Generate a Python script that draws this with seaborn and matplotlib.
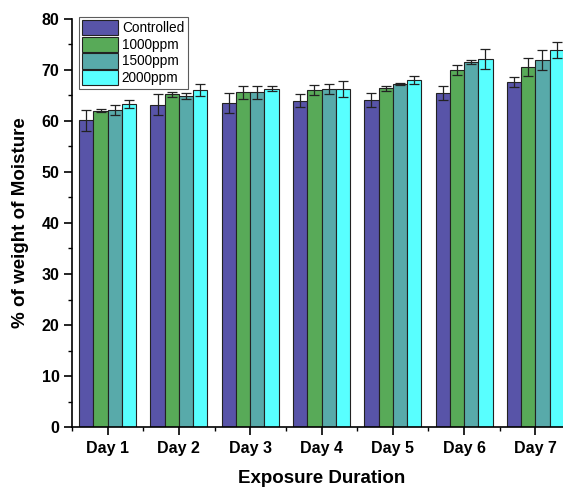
import numpy as np
import pandas as pd
import matplotlib
matplotlib.use("Agg")
import matplotlib.pyplot as plt
import seaborn as sns
from matplotlib.ticker import MultipleLocator

# data
days = ["Day 1", "Day 2", "Day 3", "Day 4", "Day 5", "Day 6", "Day 7"]
treatments = ["Controlled", "1000ppm", "1500ppm", "2000ppm"]

controlled = [60.1, 63.2, 63.5, 64.0, 64.1, 65.5, 67.6]
ppm1000 = [62.0, 65.2, 65.6, 66.0, 66.4, 70.0, 70.6]
ppm1500 = [62.1, 64.9, 65.6, 66.2, 67.2, 71.5, 72.0]
ppm2000 = [63.3, 66.1, 66.3, 66.3, 68.0, 72.1, 73.9]

controlled_err = [2.0, 2.0, 2.0, 1.3, 1.3, 1.3, 1.0]
ppm1000_err = [0.3, 0.4, 1.2, 1.0, 0.5, 1.0, 1.8]
ppm1500_err = [1.0, 0.6, 1.2, 1.0, 0.2, 0.4, 2.0]
ppm2000_err = [0.8, 1.2, 0.5, 1.5, 0.8, 2.0, 1.5]

colors = ["#5854A8", "#58AA58", "#58AAAA", "#58FFFF"]

# long-form table for seaborn
values = [controlled, ppm1000, ppm1500, ppm2000]
errors = [controlled_err, ppm1000_err, ppm1500_err, ppm2000_err]
df = pd.DataFrame({
    "day": days * len(treatments),
    "treatment": np.repeat(treatments, len(days)),
    "moisture": np.concatenate(values),
})

sns.set_style("ticks")
plt.rcParams["font.family"] = ["Liberation Sans", "DejaVu Sans"]
plt.rcParams["font.weight"] = "bold"
plt.rcParams["text.color"] = "black"
plt.rcParams["axes.labelcolor"] = "black"

fig = plt.figure(figsize=(5.63, 4.88), dpi=100)
ax = fig.add_axes([72 / 563, 1 - 427 / 488, (571 - 72) / 563, (427 - 19) / 488])

sns.barplot(data=df, x="day", y="moisture", hue="treatment", order=days,
            hue_order=treatments, palette=colors, errorbar=None, width=0.8,
            saturation=1, edgecolor="#222222", linewidth=0.8, ax=ax)

# error bars on top of each bar
for cont, err in zip(ax.containers, errors):
    xs = [b.get_x() + b.get_width() / 2 for b in cont]
    ys = [b.get_height() for b in cont]
    ax.errorbar(xs, ys, yerr=err, fmt="none", ecolor="#222222",
                elinewidth=0.9, capsize=3.8, capthick=0.9)

ax.set_xlim(-0.5, 6.5)
ax.set_ylim(0, 80)
ax.yaxis.set_major_locator(MultipleLocator(10))
ax.yaxis.set_minor_locator(MultipleLocator(5))
ax.set_xticks(np.arange(len(days)))
ax.set_xticks(np.arange(len(days) + 1) - 0.5, minor=True)

sns.despine(ax=ax, top=True, right=True)
for s in ["left", "bottom"]:
    ax.spines[s].set_linewidth(1.2)
    ax.spines[s].set_color("black")

ax.tick_params(axis="both", which="major", direction="out", length=6,
               width=1.2, labelsize=11.5, colors="black", pad=3)
ax.tick_params(axis="x", which="major", pad=4)
ax.tick_params(axis="both", which="minor", direction="out", length=3,
               width=1.0, colors="black")
for lab in ax.get_xticklabels() + ax.get_yticklabels():
    lab.set_fontweight("bold")

ax.set_xlabel("Exposure Duration", fontsize=13.5, fontweight="bold", labelpad=10)
ax.set_ylabel("% of weight of Moisture", fontsize=13.5, fontweight="bold", labelpad=9)

handles, labels = ax.get_legend_handles_labels()
leg = ax.legend(handles[:4], labels[:4], loc="upper left",
                bbox_to_anchor=(0.014, 1.006), frameon=True, fancybox=False,
                edgecolor="#333333", fontsize=9.8, handlelength=2.6,
                handleheight=1.35, handletextpad=0.3, labelspacing=0.1,
                borderpad=0.25, borderaxespad=0)
leg.get_frame().set_linewidth(0.8)
for t in leg.get_texts():
    t.set_fontweight("normal")

fig.savefig("out.png", dpi=100)
